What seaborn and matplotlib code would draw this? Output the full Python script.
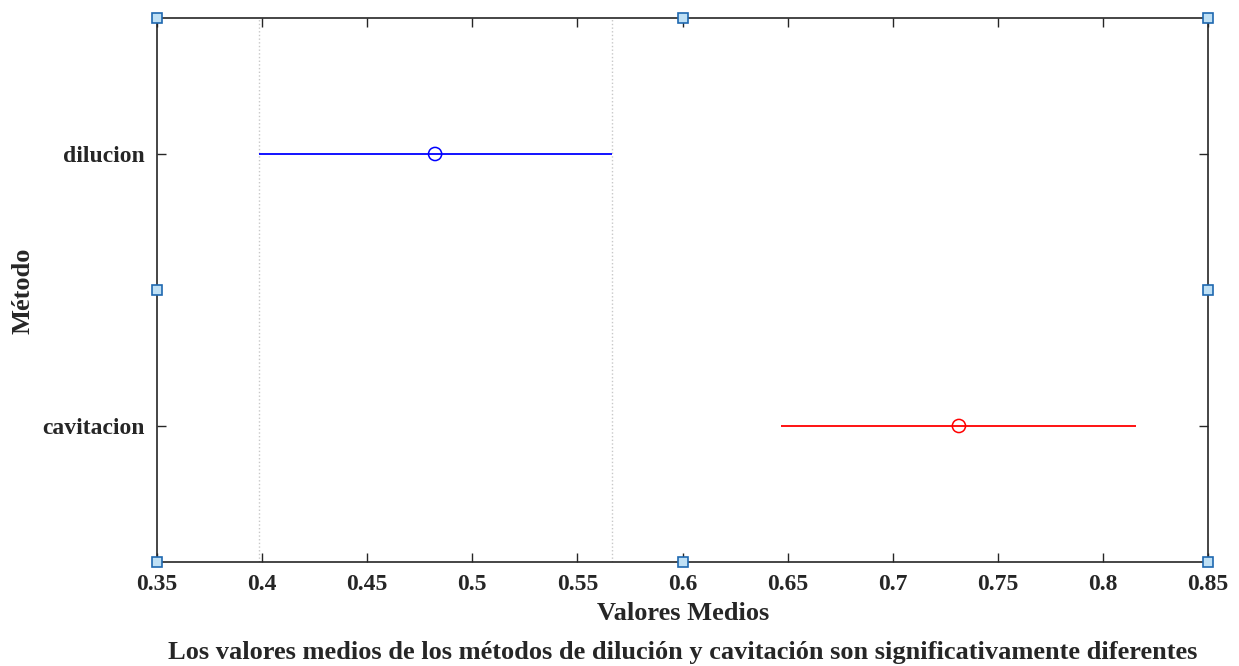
import matplotlib
matplotlib.use("Agg")
import matplotlib.pyplot as plt
import seaborn as sns
import pandas as pd

# group means and comparison intervals
metodos = ["cavitacion", "dilucion"]
medias = [0.7315, 0.4823]
inferior = [0.6469, 0.3985]
superior = [0.8157, 0.5665]
colores = ["red", "blue"]
ticks_x = [0.35, 0.4, 0.45, 0.5, 0.55, 0.6, 0.65, 0.7, 0.75, 0.8, 0.85]
etiquetas_x = ["0.35", "0.4", "0.45", "0.5", "0.55", "0.6", "0.65", "0.7", "0.75", "0.8", "0.85"]

sns.set_style("white")
plt.rcParams["font.family"] = ["Liberation Serif", "DejaVu Serif"]
plt.rcParams["font.weight"] = "bold"

df = pd.DataFrame({"metodo": metodos, "media": medias,
                   "lo": inferior, "hi": superior, "pos": [1, 2]})

fig = plt.figure(figsize=(12.39, 6.66), dpi=100)
ax = fig.add_axes([0.1267, 0.1562, 0.975 - 0.1267, 0.973 - 0.1562])

# dotted reference lines at the edges of the selected group (dilucion)
for v in (df["lo"].iloc[1], df["hi"].iloc[1]):
    ax.axvline(v, color="#c8c8c8", linestyle=":", linewidth=1, zorder=0)

ax.hlines(df["pos"], df["lo"], df["hi"], colors=colores, linewidth=1.3, zorder=2)
sns.scatterplot(data=df, x="media", y="pos", hue="metodo", palette=colores,
                marker="o", s=90, linewidth=1.1, legend=False, ax=ax, zorder=3)
# hollow circles
for coll in ax.collections[1:]:
    coll.set_facecolor("none")
    coll.set_edgecolor(colores)

ax.set_xlim(0.35, 0.85)
ax.set_ylim(0.5, 2.5)
ax.set_xticks(ticks_x)
ax.set_xticklabels(etiquetas_x)
ax.set_yticks(df["pos"])
ax.set_yticklabels(metodos)
ax.set_xlabel("")
ax.set_ylabel("")

ax.tick_params(direction="in", length=6.5, width=1, color="#262626",
               bottom=True, left=True, top=True, right=True,
               labelsize=17, pad=9, labelcolor="#262626")
for sp in ax.spines.values():
    sp.set_visible(True)
    sp.set_color("#262626")
    sp.set_linewidth(1.2)

fig.text(0.551, 1 - 614 / 666, "Valores Medios", ha="center", va="center",
         fontsize=19, fontweight="bold", color="#262626")
fig.text(23 / 1239, 1 - 291 / 666, "Método", ha="center", va="center", rotation=90,
         fontsize=19, fontweight="bold", color="#262626")
fig.text(0.551, 1 - 653 / 666, "Los valores medios de los métodos de dilución y cavitación son significativamente diferentes",
         ha="center", va="center", fontsize=19, fontweight="bold", color="#262626")

# selection handles on the axes box
hx = [0, 0.5, 1, 0, 1, 0, 0.5, 1]
hy = [0, 0, 0, 0.5, 0.5, 1, 1, 1]
ax.plot(hx, hy, linestyle="none", marker="s", markersize=6.5, markerfacecolor="#bfe0f5",
        markeredgecolor="#1f68b0", markeredgewidth=1.2, transform=ax.transAxes,
        clip_on=False, zorder=5)

fig.savefig("out.png", dpi=100)
